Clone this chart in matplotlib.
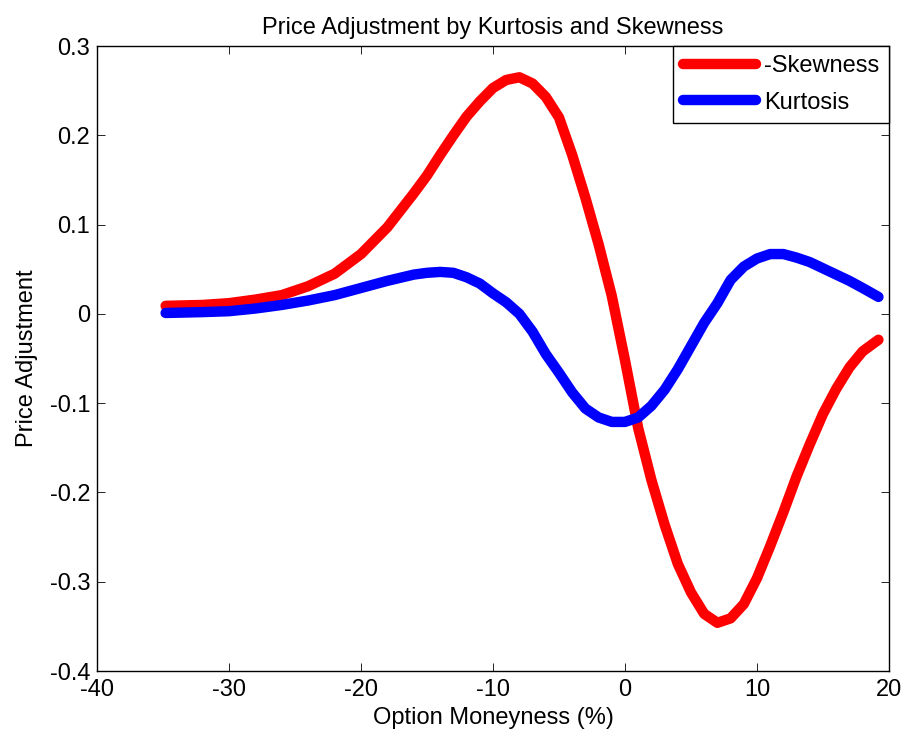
import matplotlib
matplotlib.use('Agg')
import matplotlib.pyplot as plt

plt.rcParams['font.family'] = ['Liberation Sans', 'DejaVu Sans']
plt.rcParams['axes.unicode_minus'] = False

# ── Datos ──
moneyness = [-34.8, -32, -30, -28, -26, -24, -22, -20, -18, -16, -15, -14, -13, -12,
             -11, -10, -9, -8, -7, -6, -5, -4, -3, -2, -1, 0, 1, 2, 3, 4, 5, 6, 7,
             8, 9, 10, 11, 12, 13, 14, 15, 16, 17, 18, 19.2]
neg_skewness = [0.009, 0.010, 0.012, 0.016, 0.021, 0.031, 0.045, 0.067, 0.097, 0.135,
                0.155, 0.178, 0.200, 0.221, 0.238, 0.253, 0.262, 0.265, 0.258, 0.243,
                0.220, 0.178, 0.130, 0.078, 0.020, -0.052, -0.128, -0.186, -0.236,
                -0.280, -0.312, -0.336, -0.346, -0.341, -0.325, -0.296, -0.260, -0.222,
                -0.182, -0.146, -0.112, -0.084, -0.060, -0.042, -0.029]
kurtosis = [0.001, 0.002, 0.003, 0.006, 0.010, 0.015, 0.021, 0.029, 0.037, 0.044,
            0.046, 0.047, 0.046, 0.041, 0.034, 0.023, 0.013, 0.0, -0.020, -0.045,
            -0.066, -0.088, -0.106, -0.116, -0.121, -0.121, -0.116, -0.103, -0.085,
            -0.062, -0.036, -0.010, 0.012, 0.038, 0.053, 0.062, 0.067, 0.067, 0.063,
            0.058, 0.051, 0.044, 0.037, 0.029, 0.019]

fig = plt.figure(figsize=(9.03, 7.34), dpi=100)
ax = fig.add_axes([0.1074, 0.0858, 0.8771, 0.8515])

ax.plot(moneyness, neg_skewness, color='red', linewidth=7.5, solid_capstyle='round',
        solid_joinstyle='round', label='-Skewness')
ax.plot(moneyness, kurtosis, color='blue', linewidth=7.5, solid_capstyle='round',
        solid_joinstyle='round', label='Kurtosis')

ax.set_xlim(-40, 20)
ax.set_ylim(-0.4, 0.3)
ax.set_xticks(range(-40, 21, 10))
ax.set_yticks([-0.4, -0.3, -0.2, -0.1, 0, 0.1, 0.2, 0.3])
ax.set_yticklabels(['-0.4', '-0.3', '-0.2', '-0.1', '0', '0.1', '0.2', '0.3'])
ax.tick_params(direction='in', top=True, right=True, length=6, width=0.6,
               labelsize=17)
ax.tick_params(axis='x', pad=6)
ax.tick_params(axis='y', pad=5)
for s in ax.spines.values():
    s.set_linewidth(1.0)

ax.set_title('Price Adjustment by Kurtosis and Skewness', fontsize=17, pad=9)
ax.set_xlabel('Option Moneyness (%)', fontsize=17, labelpad=4)
ax.set_ylabel('Price Adjustment', fontsize=17, labelpad=8)

leg = ax.legend(loc='upper right', fontsize=17, fancybox=False, framealpha=1,
                edgecolor='black', handlelength=3.1, handletextpad=0.35,
                borderaxespad=0.0, labelspacing=0.6, borderpad=0.4)
leg.get_frame().set_linewidth(1.0)

plt.savefig('out.png', dpi=100)
